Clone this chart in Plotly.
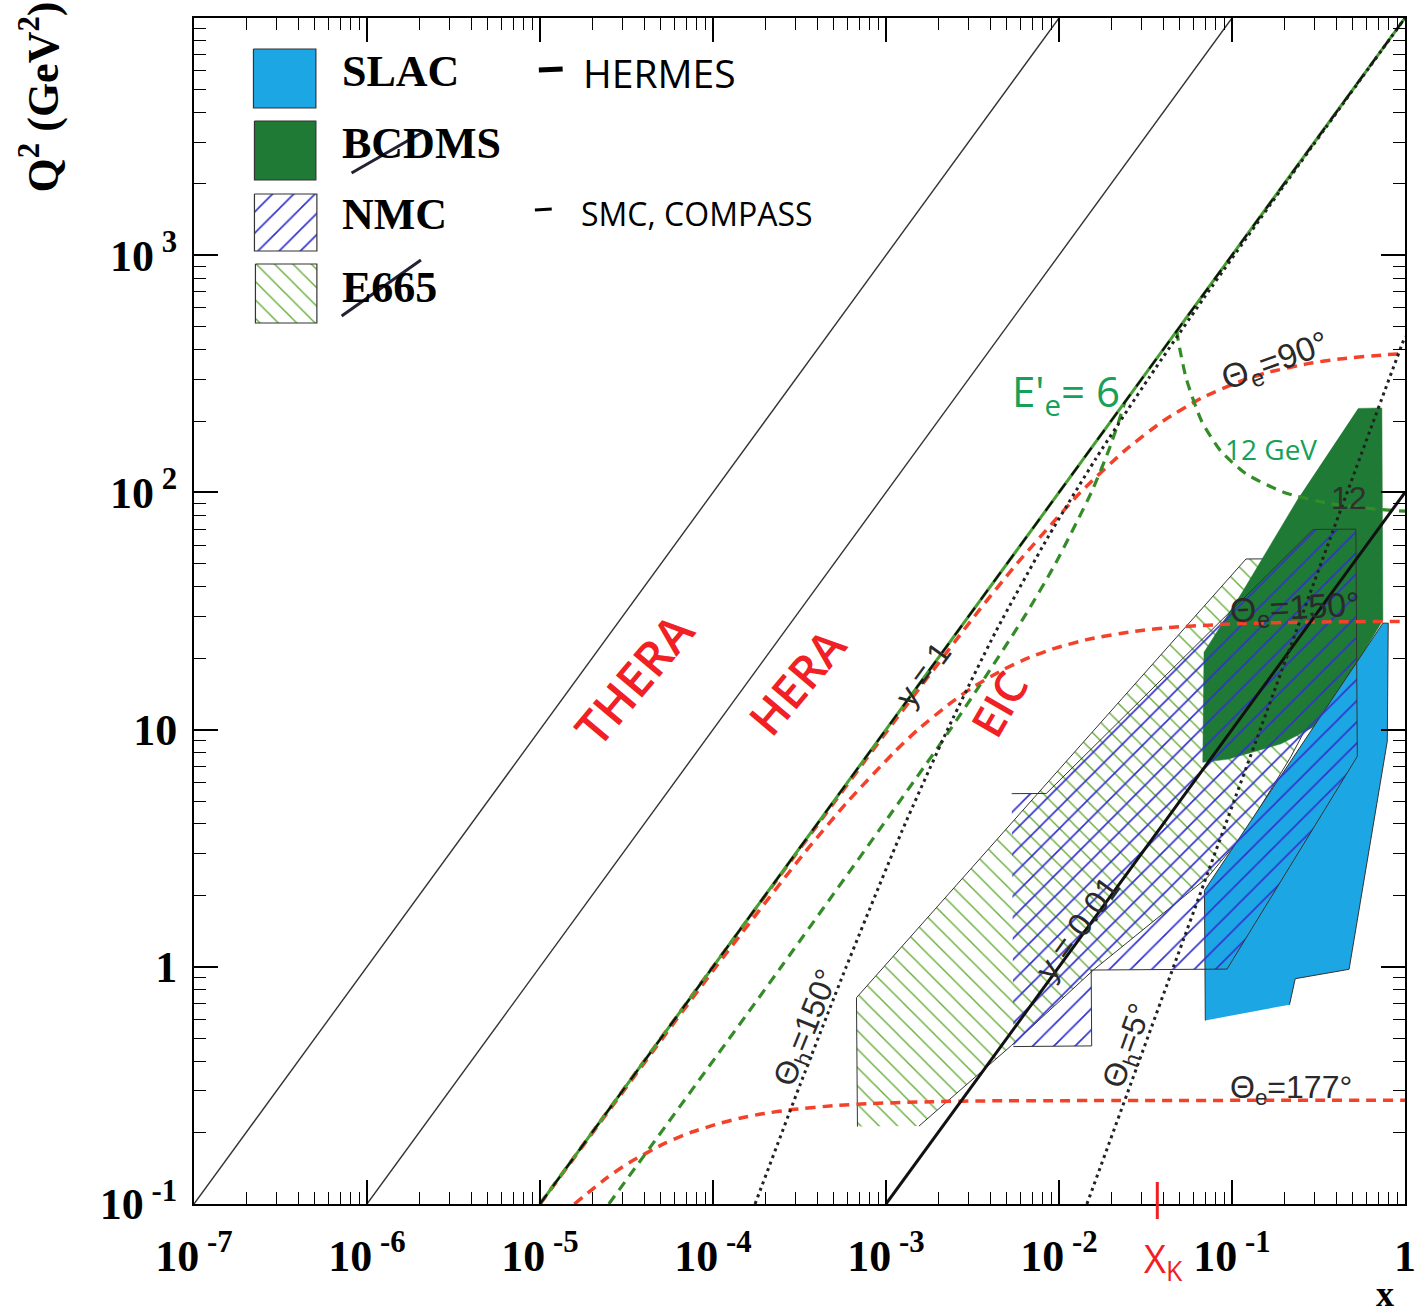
import math
import plotly.graph_objects as go

# ====================== DATA ======================
# kinematic limits (straight lines in log-log)
thera_x = [1e-7, 1e-2]
thera_q2 = [0.1, 1e4]
hera_x = [1e-6, 1e-1]
hera_q2 = [0.1, 1e4]
eic_y1_x = [1e-5, 1.0]
eic_y1_q2 = [0.1, 1e4]
eic_y001_x = [1e-3, 1.0]
eic_y001_q2 = [0.1, 100.0]

# constant electron angle curves (red dashed)
the90_x = [1.0e-5, 1.0e-4, 1.03e-3, 3.24e-3, 5.7e-3, 0.0133, 0.024, 0.04, 0.0667, 0.12, 0.16, 0.28, 0.417, 0.76, 1.0]
the90_q2 = [0.1, 1, 10, 30, 50, 100, 150, 200, 250, 300, 320, 350, 365, 380, 385]
the150_x = [1.0e-5, 1.04e-4, 3.35e-4, 6.05e-4, 1.11e-3, 1.53e-3, 2.38e-3, 3.14e-3, 4.83e-3, 6.6e-3, 9.43e-3, 0.0147, 0.0276, 0.0456, 0.115, 0.272, 1.0]
the150_q2 = [0.1, 1, 3, 5, 8, 10, 13, 15, 18, 20, 22, 24, 26, 27, 28, 28.4, 28.6]
the177_x = [1.58e-5, 2.47e-5, 3.31e-5, 5.25e-5, 7.4e-5, 1.12e-4, 1.43e-4, 1.93e-4, 2.85e-4, 5.09e-4, 8.07e-4, 1.85e-3, 3.73e-3, 1.0]
the177_q2 = [0.1, 0.13, 0.15, 0.18, 0.2, 0.22, 0.23, 0.24, 0.25, 0.26, 0.265, 0.27, 0.272, 0.274]

# constant scattered-electron energy (green dashed)
ee6_x = [2.5e-5, 2.48e-4, 2.35e-3, 6.32e-3, 9.52e-3, 0.01538, 0.01935, 0.0222, 0.024]
ee6_q2 = [0.1, 1, 10, 30, 50, 100, 150, 200, 240]
ee12_x = [0.048, 0.0486, 0.05, 0.0545, 0.0667, 0.0857, 0.12, 0.2, 0.36, 0.68, 1.0]
ee12_q2 = [480, 450, 400, 300, 200, 150, 120, 100, 90, 85, 83.3]

# constant hadron angle (black dotted)
thh150_x = [1.75e-4, 3.19e-4, 5.89e-4, 1.23e-3, 2.26e-3, 4.31e-3, 8.63e-3, 0.0163, 0.0331, 0.069, 0.189, 1.0]
thh150_q2 = [0.1, 0.319, 1.0, 3.70, 9.94, 25.9, 64.7, 138.5, 304, 662, 1859, 1e4]
thh5_x = [0.0145, 0.0421, 0.1055, 0.212, 0.428, 0.649, 0.761, 0.874, 1.0]
thh5_q2 = [0.1, 0.841, 5.27, 21.2, 85.6, 194.7, 266.4, 349.7, 455]

# measured regions
slac_x = [0.0701, 0.0693, 0.745, 0.80, 0.79, 0.475, 0.232, 0.215]
slac_q2 = [0.594, 2.10, 28.1, 28.1, 8.94, 0.976, 0.891, 0.692]
bcdms_x = [0.535, 0.735, 0.745, 0.324, 0.192, 0.0955, 0.0678, 0.0689, 0.1148, 0.245]
bcdms_q2 = [226, 227, 28.9, 10.6, 8.71, 7.51, 7.28, 21.2, 38.0, 95.9]
nmc_x = [0.00533, 0.00845, 0.295, 0.520, 0.530, 0.0936, 0.01535, 0.01545, 0.00545]
nmc_q2 = [5.37, 5.38, 69.8, 70.0, 7.71, 0.978, 0.969, 0.464, 0.461]
e665_x = [6.84e-4, 6.75e-4, 0.1205, 0.507, 0.511, 0.219, 0.117, 0.0721, 0.0158, 5.31e-3, 1.55e-3]
e665_q2 = [0.212, 0.741, 52.4, 52.7, 24.7, 7.69, 3.63, 2.38, 0.969, 0.466, 0.213]

x_k = 0.037

# ticks
x_tickvals = [1e-7, 1e-6, 1e-5, 1e-4, 1e-3, 1e-2, 1e-1, 1]
x_ticktext = ["10<sup> -7</sup>", "10<sup> -6</sup>", "10<sup> -5</sup>", "10<sup> -4</sup>",
              "10<sup> -3</sup>", "10<sup> -2</sup>", "10<sup> -1</sup>", "1"]
y_tickvals = [0.1, 1, 10, 100, 1000]
y_ticktext = ["10<sup> -1</sup>", "1", "10", "10<sup> 2</sup>", "10<sup> 3</sup>"]

# ====================== STYLE / LAYOUT ======================
W, H = 1428, 1316
L, R, T, B = 194, 1416, 18, 1204


def P(px, py):
    return (px - L) / (R - L), (B - py) / (B - T)


RED = "rgb(244,66,42)"
GREEN_D = "rgb(52,140,40)"
HAND_RED = "rgb(240,32,36)"
HAND_GREEN = "rgb(22,160,88)"
LBL = "#2a2a2a"
NMC_PAT = dict(shape="/", size=15, solidity=0.11, fgcolor="rgb(50,50,205)",
               bgcolor="rgba(0,0,0,0)", fgopacity=1)
E665_PAT = dict(shape="\\", size=13, solidity=0.11, fgcolor="rgb(105,175,60)",
                bgcolor="rgba(0,0,0,0)", fgopacity=1)

fig = go.Figure()

# regions
fig.add_trace(go.Scatter(x=e665_x, y=e665_q2, fill="toself", mode="lines",
                         line=dict(color="#333", width=1), fillcolor="rgba(0,0,0,0)",
                         fillpattern=E665_PAT, showlegend=False, hoverinfo="skip"))
fig.add_trace(go.Scatter(x=bcdms_x, y=bcdms_q2, fill="toself", mode="lines",
                         line=dict(color="rgb(30,122,52)", width=0.5), fillcolor="rgb(30,122,52)",
                         showlegend=False, hoverinfo="skip"))
fig.add_trace(go.Scatter(x=slac_x, y=slac_q2, fill="toself", mode="lines",
                         line=dict(color="#333", width=1), fillcolor="rgb(28,166,228)",
                         showlegend=False, hoverinfo="skip"))
fig.add_trace(go.Scatter(x=nmc_x, y=nmc_q2, fill="toself", mode="lines",
                         line=dict(color="#333", width=1), fillcolor="rgba(0,0,0,0)",
                         fillpattern=NMC_PAT, showlegend=False, hoverinfo="skip"))

# THERA / HERA kinematic limits
for xs, ys in [(thera_x, thera_q2), (hera_x, hera_q2)]:
    fig.add_trace(go.Scatter(x=xs, y=ys, mode="lines", line=dict(color="#333", width=1.4),
                             showlegend=False, hoverinfo="skip"))

# red dashed constant electron angle
for xs, ys in [(the90_x, the90_q2), (the150_x, the150_q2), (the177_x, the177_q2)]:
    fig.add_trace(go.Scatter(x=xs, y=ys, mode="lines",
                             line=dict(color=RED, width=3.5, dash="10px,7px", shape="spline", smoothing=0.6),
                             showlegend=False, hoverinfo="skip"))

# green dashed constant E'
for xs, ys in [(ee6_x, ee6_q2), (ee12_x, ee12_q2)]:
    fig.add_trace(go.Scatter(x=xs, y=ys, mode="lines",
                             line=dict(color=GREEN_D, width=3.2, dash="10px,7px", shape="spline", smoothing=0.6),
                             showlegend=False, hoverinfo="skip"))

# EIC y=1 line: green + black dashed
fig.add_trace(go.Scatter(x=eic_y1_x, y=eic_y1_q2, mode="lines",
                         line=dict(color="rgb(70,160,50)", width=3),
                         showlegend=False, hoverinfo="skip"))
fig.add_trace(go.Scatter(x=eic_y1_x, y=eic_y1_q2, mode="lines",
                         line=dict(color="#111", width=2.2, dash="12px,10px"),
                         showlegend=False, hoverinfo="skip"))
# EIC y=0.01
fig.add_trace(go.Scatter(x=eic_y001_x, y=eic_y001_q2, mode="lines",
                         line=dict(color="#111", width=3),
                         showlegend=False, hoverinfo="skip"))

# dotted hadron angle lines
for xs, ys in [(thh150_x, thh150_q2), (thh5_x, thh5_q2)]:
    fig.add_trace(go.Scatter(x=xs, y=ys, mode="lines",
                             line=dict(color="#222", width=3, dash="3px,4px", shape="spline", smoothing=0.6),
                             showlegend=False, hoverinfo="skip"))

# ---- legend swatches (overlay pixel axes) ----
sw = [
    ((254, 317, 49, 108), dict(fillcolor="rgb(28,166,228)")),
    ((255, 317, 121, 180), dict(fillcolor="rgb(30,122,52)")),
    ((255, 318, 194, 251), dict(fillcolor="rgba(0,0,0,0)", fillpattern=NMC_PAT)),
    ((256, 318, 264, 323), dict(fillcolor="rgba(0,0,0,0)", fillpattern=E665_PAT)),
]
for (x0, x1, y0, y1), kw in sw:
    fig.add_trace(go.Scatter(x=[x0, x1, x1, x0, x0], y=[y0, y0, y1, y1, y0], xaxis="x2", yaxis="y2",
                             mode="lines", fill="toself", line=dict(color="#333", width=1.2),
                             showlegend=False, hoverinfo="skip", **kw))

ann = []


def add_text(px, py, text, size, color="black", family="Liberation Sans", angle=0,
             weight="normal", xanchor="center"):
    x, y = P(px, py)
    ann.append(dict(x=x, y=y, xref="paper", yref="paper", text=text, showarrow=False,
                    textangle=angle, xanchor=xanchor, yanchor="middle",
                    font=dict(family=family, size=size, color=color, weight=weight)))


# legend labels
for py, t in [(71, "SLAC"), (143, "BCDMS"), (215, "NMC"), (287, "E665")]:
    add_text(341, py, t, 44, family="Liberation Serif", weight="bold", xanchor="left")

# handwritten notes
add_text(664, 73, "HERMES", 39, family="Open Sans")
add_text(701, 213, "SMC, COMPASS", 32, family="Open Sans")
add_text(637, 679, "THERA", 48, HAND_RED, family="Open Sans", angle=-50, weight=600)
add_text(802, 681, "HERA", 46, HAND_RED, family="Open Sans", angle=-50, weight=600)
add_text(1006, 704, "EIC", 44, HAND_RED, family="Open Sans", angle=-60, weight=600)
add_text(1074, 393, "E'<sub>e</sub>= 6", 42, HAND_GREEN, family="Open Sans")
add_text(1281, 449, "12 GeV", 28, HAND_GREEN, family="Open Sans")
add_text(1172, 1260, "X<sub>K</sub>", 38, HAND_RED, family="Open Sans")

# curve labels
add_text(1285, 362, "Θ<sub>e</sub>=90°", 34, LBL, angle=-20)
add_text(1305, 609, "Θ<sub>e</sub>=150°", 34, LBL, angle=-3)
add_text(1301, 1089, "Θ<sub>e</sub>=177°", 32, LBL)
add_text(813, 1028, "Θ<sub>h</sub>=150°", 32, LBL, angle=-68)
add_text(1137, 1046, "Θ<sub>h</sub>=5°", 32, LBL, angle=-70)
add_text(930, 674, "y = 1", 32, LBL, angle=-54)
add_text(1085, 928, "y = 0.01", 33, LBL, angle=-54)
add_text(1359, 498, "12", 32, "#303030")

# axis titles
add_text(38, 97, "Q<sup>2</sup> (GeV<sup>2</sup>)", 44, family="Liberation Serif", angle=-90, weight="bold")
add_text(1396, 1294, "x", 36, family="Liberation Serif", weight="bold")

shapes = []


def add_line(p0, p1, color="black", width=3):
    x0, y0 = P(*p0)
    x1, y1 = P(*p1)
    shapes.append(dict(type="line", xref="paper", yref="paper", x0=x0, y0=y0, x1=x1, y1=y1,
                       line=dict(color=color, width=width)))


add_line((353, 173), (425, 132), "#223", 3)      # strike BCDMS
add_line((343, 316), (423, 260), "#223", 3)      # strike E665
add_line((542, 70), (566, 69), "black", 5)       # dash HERMES
add_line((538, 210), (555, 209), "black", 3)     # dash SMC
xk_paper = (math.log10(x_k) + 7) / 7
shapes.append(dict(type="line", xref="paper", yref="paper", x0=xk_paper, x1=xk_paper,
                   y0=P(0, 1219)[1], y1=P(0, 1182)[1], line=dict(color=HAND_RED, width=3)))

minor_vals = [m * 10 ** e for e in range(-7, 4) for m in range(2, 10)]

axis_common = dict(type="log", showline=True, linecolor="black", linewidth=2, mirror="allticks",
                   ticks="inside", ticklen=24, tickwidth=1.5, tickcolor="black",
                   showgrid=False, zeroline=False,
                   tickfont=dict(family="Liberation Serif", size=44, color="black", weight="bold"),
                   minor=dict(tickvals=minor_vals, ticks="inside", ticklen=12, tickwidth=1.2,
                              tickcolor="black", showgrid=False))

fig.update_layout(
    width=W, height=H, autosize=False,
    margin=dict(l=L, r=W - R, t=T, b=H - B),
    paper_bgcolor="white", plot_bgcolor="white",
    showlegend=False,
    xaxis=dict(range=[-7, 0], tickvals=x_tickvals, ticktext=x_ticktext, ticklabelstandoff=12,
               **axis_common),
    yaxis=dict(range=[-1, 4], tickvals=y_tickvals, ticktext=y_ticktext, ticklabelstandoff=6,
               **axis_common),
    xaxis2=dict(overlaying="x", range=[L, R], visible=False),
    yaxis2=dict(overlaying="y", range=[B, T], visible=False),
    annotations=ann,
    shapes=shapes,
)

fig.write_html("out.html", config={"displayModeBar": False, "responsive": False},
               post_script="document.body.style.margin='0px';")
